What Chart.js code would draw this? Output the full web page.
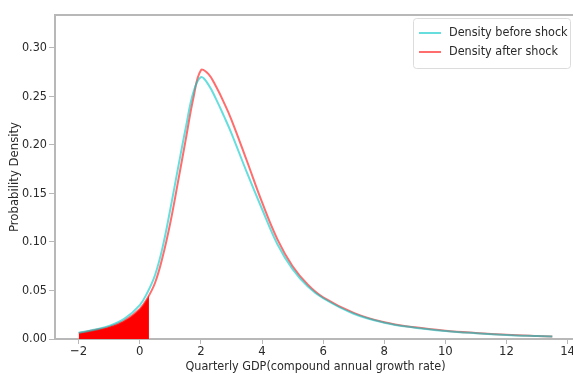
<!DOCTYPE html>
<html>
<head>
<meta charset="utf-8">
<script src="https://cdn.jsdelivr.net/npm/chart.js@4.4.1/dist/chart.umd.min.js"></script>
<style>
    html, body { margin: 0; padding: 0; background: #fff; overflow: hidden; }
    #wrap { width: 600px; height: 374px; }
</style>
</head>
<body>
<div id="wrap"><canvas id="densityChart"></canvas></div>
<script>
// growth rate grid (x) and densities
const growthRates = [-2, -1.5, -1, -0.5, 0, 0.25, 0.5, 0.75, 1, 1.25, 1.5, 1.75, 2, 2.25, 2.5, 2.75, 3, 3.5, 4, 4.5, 5, 5.5, 6, 7, 8, 9, 10, 11, 12, 13, 13.5];
const densityBefore = [0.0065, 0.0095, 0.0135, 0.021, 0.035, 0.048, 0.066, 0.095, 0.134, 0.176, 0.217, 0.254, 0.270, 0.262, 0.247, 0.230, 0.212, 0.172, 0.134, 0.098, 0.072, 0.054, 0.042, 0.026, 0.0168, 0.0117, 0.0083, 0.0060, 0.0042, 0.0030, 0.0025];
const densityAfter = [0.006, 0.009, 0.0125, 0.019, 0.031, 0.042, 0.058, 0.085, 0.120, 0.162, 0.205, 0.248, 0.277, 0.273, 0.260, 0.244, 0.226, 0.184, 0.141, 0.103, 0.075, 0.056, 0.043, 0.027, 0.0172, 0.012, 0.0085, 0.0062, 0.0044, 0.0031, 0.0026];
// left tail shaded up to the cut-off
const tailCutoff = 0.3;
const tailCutoffDensity = 0.045;

const yTicks = [0, 0.05, 0.10, 0.15, 0.20, 0.25, 0.30];
const xTicks = [-2, 0, 2, 4, 6, 8, 10, 12, 14];

const FONT = "'Liberation Sans Narrow', 'DejaVu Sans Condensed', 'Liberation Sans', sans-serif";
const SPINE = '#b8b8b8';
const CYAN = 'rgba(0, 200, 200, 0.6)';
const RED = 'rgba(255, 30, 30, 0.65)';

const toPoints = (xs, ys) => xs.map((x, i) => ({ x: x, y: ys[i] }));

const tailPoints = toPoints(growthRates, densityAfter).filter(p => p.x < tailCutoff);
tailPoints.push({ x: tailCutoff, y: tailCutoffDensity });

// top spine + legend box
const extrasPlugin = {
    id: 'extras',
    afterDraw(chart) {
        const ctx = chart.ctx;
        const area = chart.chartArea;
        ctx.save();
        ctx.strokeStyle = SPINE;
        ctx.lineWidth = 2;
        ctx.beginPath();
        ctx.moveTo(area.left, area.top);
        ctx.lineTo(chart.width, area.top);
        ctx.stroke();

        // legend
        const bx = 413, by = 18, bw = 157, bh = 50;
        ctx.fillStyle = 'rgba(255,255,255,0.9)';
        ctx.strokeStyle = '#dcdcdc';
        ctx.lineWidth = 1;
        ctx.beginPath();
        ctx.roundRect(bx + 0.5, by + 0.5, bw, bh, 3);
        ctx.fill();
        ctx.stroke();

        const items = chart.data.datasets.filter(d => d.inLegend);
        items.forEach((d, i) => {
            const y = by + 15 + i * 19;
            ctx.strokeStyle = d.borderColor;
            ctx.lineWidth = 2;
            ctx.beginPath();
            ctx.moveTo(bx + 6, y);
            ctx.lineTo(bx + 28, y);
            ctx.stroke();
            ctx.fillStyle = '#2a2a2a';
            ctx.font = '12.5px ' + FONT;
            ctx.textBaseline = 'middle';
            ctx.fillText(d.label, bx + 36, y);
        });
        ctx.restore();
    }
};

new Chart(document.getElementById('densityChart'), {
    type: 'line',
    data: {
        datasets: [
            {
                label: 'Density before shock',
                data: toPoints(growthRates, densityBefore),
                borderColor: CYAN,
                borderWidth: 2,
                pointRadius: 0,
                tension: 0.4,
                fill: false,
                order: 1,
                inLegend: true
            },
            {
                label: 'Density after shock',
                data: toPoints(growthRates, densityAfter),
                borderColor: RED,
                borderWidth: 2,
                pointRadius: 0,
                tension: 0.4,
                fill: false,
                order: 2,
                inLegend: true
            },
            {
                label: 'tail',
                data: tailPoints,
                borderColor: 'rgba(0,0,0,0)',
                borderWidth: 0,
                backgroundColor: '#ff0000',
                pointRadius: 0,
                tension: 0.4,
                fill: 'origin',
                order: 3
            }
        ]
    },
    options: {
        responsive: true,
        maintainAspectRatio: false,
        animation: false,
        layout: { padding: { top: 15, right: 24, left: 0, bottom: 0 } },
        plugins: {
            legend: { display: false },
            tooltip: { enabled: false }
        },
        scales: {
            x: {
                type: 'linear',
                min: -2.775,
                max: 14.275,
                afterBuildTicks: scale => { scale.ticks = xTicks.map(v => ({ value: v })); },
                afterFit: scale => { scale.height = 35; },
                border: { color: SPINE, width: 2 },
                grid: { drawOnChartArea: false, color: SPINE, tickLength: 5 },
                ticks: {
                    color: '#2a2a2a',
                    padding: 0,
                    maxRotation: 0,
                    font: { family: FONT, size: 13 },
                    callback: v => (v < 0 ? '\u2212' + Math.abs(v) : String(v))
                },
                title: {
                    display: true,
                    text: 'Quarterly GDP(compound annual growth rate)',
                    color: '#2a2a2a',
                    padding: { top: 0, bottom: 0 },
                    font: { family: FONT, size: 12.5 }
                }
            },
            y: {
                type: 'linear',
                min: 0,
                max: 0.334,
                afterBuildTicks: scale => { scale.ticks = yTicks.map(v => ({ value: v })); },
                afterFit: scale => { scale.width = 55; },
                border: { color: SPINE, width: 2 },
                grid: { drawOnChartArea: false, color: SPINE, tickLength: 6 },
                ticks: {
                    color: '#2a2a2a',
                    padding: 2,
                    font: { family: FONT, size: 12.5 },
                    callback: v => v.toFixed(2)
                },
                title: {
                    display: true,
                    text: 'Probability Density',
                    color: '#2a2a2a',
                    padding: { top: 7, bottom: 0 },
                    font: { family: FONT, size: 13 }
                }
            }
        }
    },
    plugins: [extrasPlugin]
});
</script>
</body>
</html>
